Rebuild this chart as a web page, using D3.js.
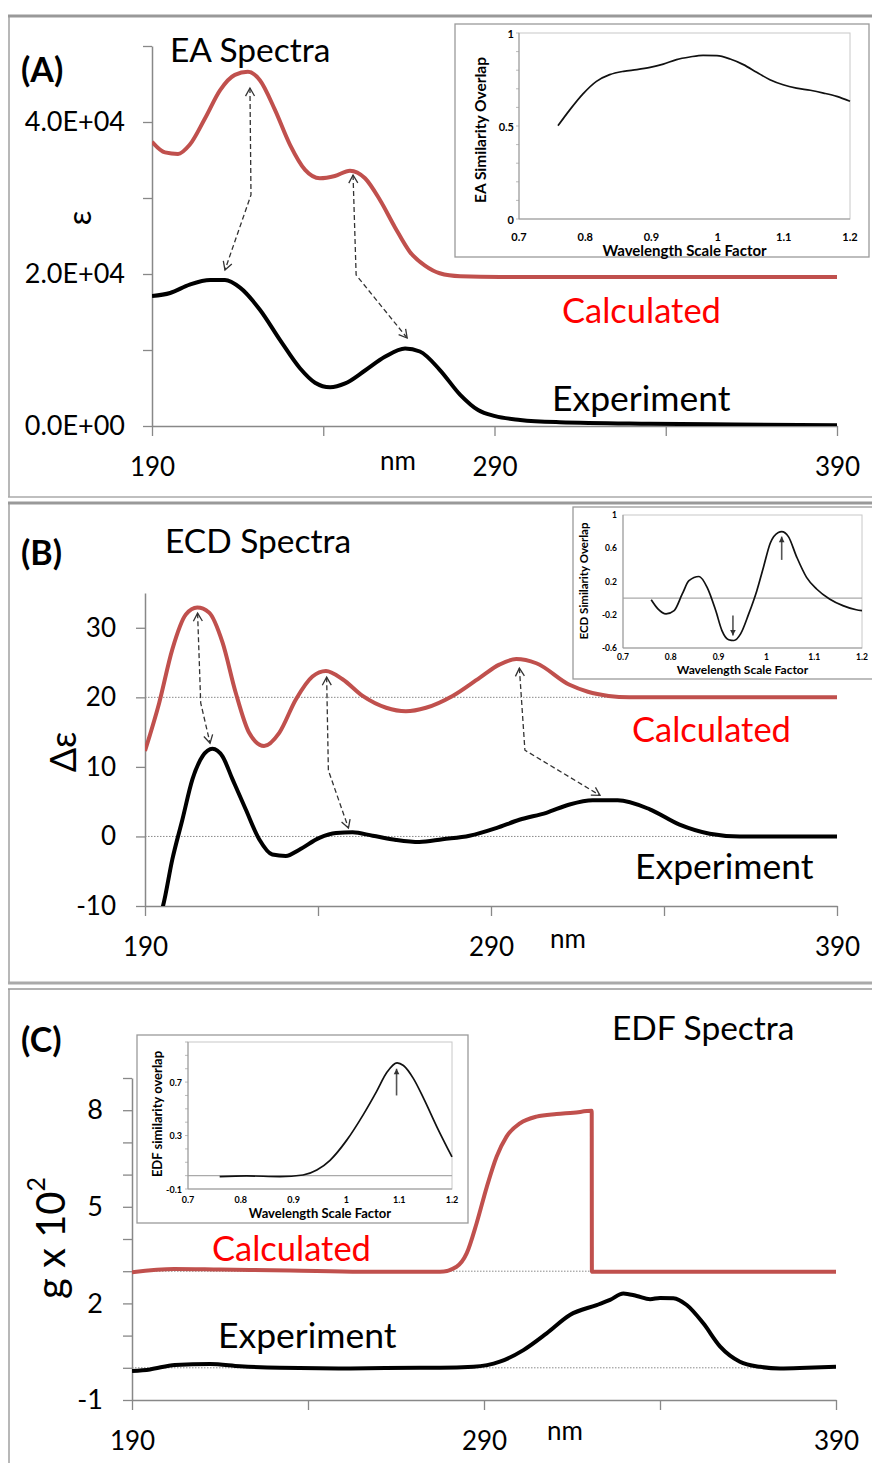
<!DOCTYPE html>
<html><head><meta charset="utf-8">
<script src="https://cdn.jsdelivr.net/npm/d3@7"></script>
<style>
body{margin:0;background:#fff;}
svg{display:block;font-family:Lato,'Open Sans',sans-serif;}
</style>
</head><body>
<svg id="c" width="872" height="1463"></svg>
<script>
// ================= DATA =================
const xTicks = [190, 240, 290, 340, 390];
const xTickLabels = ["190", "", "290", "", "390"];

// Panel A – EA spectra (nm, epsilon)
const eaTicks = [0, 10000, 20000, 30000, 40000, 50000];
const eaTickLabels = ["0.0E+00", "", "2.0E+04", "", "4.0E+04", ""];
const eaCalc = [[190,37400],[193.8,36000],[197.6,35800],[201,37000],[205.5,40500],[209.9,44200],[214.2,46200],[218,46600],[221.5,45500],[225.9,41600],[230.3,37000],[234.7,33700],[239,32600],[243.4,32900],[247.8,33600],[252.2,32600],[256.6,29700],[261,26100],[265.3,22900],[269.7,21100],[274,20100],[280,19700],[291.6,19600],[320,19600],[350,19600],[390,19600]];
const eaExp = [[190,17100],[195.3,17500],[201,18600],[207,19200],[211.3,19200],[215.7,18200],[221.5,15300],[227.4,11300],[233.2,7600],[237.6,5700],[242,5100],[246.4,5600],[252.2,7300],[258,9100],[263.9,10200],[268.2,9800],[274,7400],[280,4100],[285.2,2100],[290.2,1300],[297.5,800],[309,500],[335.4,300],[360,200],[390,100]];
const eaArrows = [
  [[218.6,44470],[218.9,30400],[211.3,20530]],
  [[248.7,33030],[249.6,19870],[264.5,11580]]
];

// Panel B – ECD spectra (nm, delta epsilon)
const ecdTicks = [-10, 0, 10, 20, 30];
const ecdTickLabels = ["-10", "0", "10", "20", "30"];
const ecdRefLines = [20, 0];
const ecdCalc = [[190,12.3],[194.1,19.2],[197.9,26.9],[201.8,31.9],[205.1,32.9],[208.5,32.2],[212.4,27.9],[216.2,20.7],[220.1,14.9],[224.4,13.0],[228.8,14.9],[233.6,19.7],[238.4,23.0],[242.3,23.8],[247.1,22.6],[252.9,20.2],[259.7,18.5],[265.4,18.0],[271.2,18.5],[278.9,20.2],[286.7,22.8],[292.4,24.7],[297.3,25.5],[303.1,24.9],[312.7,21.8],[318,20.8],[324,20.2],[330,20.0],[350,20.0],[390,20.0]];
const ecdExp = [[194.3,-11.5],[195.2,-10],[197.9,-3.3],[200.8,2.4],[203.7,8.2],[206.6,11.5],[209.5,12.6],[212.4,11.5],[215.3,8.2],[219.1,3.9],[223,-0.4],[226.8,-2.6],[230.7,-2.8],[234.6,-1.9],[240.4,-0.2],[245.2,0.5],[250,0.6],[255.8,0.1],[262.6,-0.5],[269.3,-0.8],[276,-0.4],[283.8,0.1],[291.5,1.2],[298.2,2.4],[306,3.4],[312.7,4.6],[319.4,5.2],[326.6,5.2],[335.9,3.9],[344.5,1.7],[353.2,0.4],[361.9,0],[375,0],[390,0]];
const ecdArrows = [
  [[205.2,32.1],[206.1,19.2],[208.8,13.4]],
  [[242.5,22.9],[243.0,9.5],[248.8,1.2]],
  [[298.2,24.2],[299.8,12.4],[321.5,5.9]]
];

// Panel C – EDF spectra (nm, g x 10^2)
const edfTicks = [-1, 0, 1, 2, 3, 4, 5, 6, 7, 8, 9];
const edfTickLabels = ["-1", "", "", "2", "", "", "5", "", "", "8", ""];
const edfRefLines = [3, 0];
const edfCalc = [[190,2.97],[202,3.07],[215,3.05],[235,3.02],[255,2.98],[270,2.98],[277.5,2.98],[282.2,3.14],[285.1,3.56],[287.9,4.49],[290.8,5.62],[293.6,6.56],[296.4,7.18],[300.2,7.59],[304.9,7.80],[310.6,7.88],[315.4,7.92],[320.6,7.98],[320.65,2.98],[340,2.98],[360,2.98],[390,2.98]];
const edfExp = [[190,-0.1],[195.1,-0.05],[202.2,0.09],[212.2,0.12],[220.7,0.05],[232,0.0],[252,-0.02],[271.8,0.0],[277.5,0.0],[287,0.03],[294.5,0.19],[301.2,0.55],[307.8,1.07],[314.4,1.64],[322,1.95],[325.8,2.11],[329.6,2.31],[333.4,2.23],[337.2,2.13],[340,2.17],[343.8,2.16],[347.6,1.95],[352.3,1.38],[357.1,0.66],[362.7,0.19],[368.4,0.03],[374.1,-0.02],[381.7,0.0],[390,0.03]];

// Insets – similarity overlap vs wavelength scale factor
const sfTicks = [0.7, 0.8, 0.9, 1.0, 1.1, 1.2];
const sfTickLabels = ["0.7", "0.8", "0.9", "1", "1.1", "1.2"];
const eaOverlapTicks = [0, 0.5, 1];
const eaOverlapLabels = ["0", "0.5", "1"];
const eaOverlap = [[0.759,0.502],[0.777,0.588],[0.797,0.674],[0.817,0.740],[0.837,0.776],[0.858,0.794],[0.878,0.803],[0.898,0.815],[0.918,0.833],[0.938,0.857],[0.958,0.871],[0.978,0.880],[0.999,0.878],[1.019,0.860],[1.039,0.830],[1.059,0.789],[1.079,0.749],[1.099,0.722],[1.119,0.704],[1.140,0.692],[1.160,0.677],[1.180,0.659],[1.2,0.633]];
const ecdOverlapTicks = [-0.6, -0.2, 0.2, 0.6, 1];
const ecdOverlapLabels = ["-0.6", "-0.2", "0.2", "0.6", "1"];
const ecdOverlap = [[0.759,-0.02],[0.773,-0.13],[0.790,-0.19],[0.807,-0.15],[0.824,0.05],[0.838,0.21],[0.859,0.26],[0.876,0.13],[0.894,-0.15],[0.907,-0.39],[0.921,-0.50],[0.932,-0.51],[0.946,-0.43],[0.963,-0.19],[0.980,0.09],[0.994,0.375],[1.008,0.66],[1.025,0.79],[1.032,0.80],[1.046,0.74],[1.063,0.50],[1.084,0.25],[1.105,0.11],[1.132,-0.01],[1.160,-0.09],[1.188,-0.14],[1.2,-0.15]];
const ecdOverlapArrows = [[[0.93,-0.21],[0.93,-0.45]], [[1.032,0.46],[1.032,0.74]]];
const edfOverlapTicks = [-0.1, 0.3, 0.7];
const edfOverlapLabels = ["-0.1", "0.3", "0.7"];
const edfOverlap = [[0.76,-0.007],[0.811,-0.002],[0.874,-0.007],[0.918,0.005],[0.944,0.042],[0.969,0.115],[1.0,0.262],[1.032,0.457],[1.057,0.629],[1.077,0.775],[1.096,0.844],[1.108,0.824],[1.127,0.726],[1.146,0.58],[1.172,0.36],[1.2,0.14]];
const edfOverlapArrows = [[[1.095,0.60],[1.095,0.80]]];

// ================= DRAWING =================
const svg = d3.select('#c');
const FONT = "Lato,'Open Sans',sans-serif";
const AX = '#888';
const RED = '#c0504d';

const defs = svg.append('defs');
defs.append('marker').attr('id','chev').attr('viewBox','-10 -6 12 12')
  .attr('markerWidth',12).attr('markerHeight',12).attr('markerUnits','userSpaceOnUse')
  .attr('refX',0).attr('refY',0).attr('orient','auto-start-reverse')
  .append('path').attr('d','M-8,-4.5 L0,0 L-8,4.5').attr('fill','none')
  .attr('stroke','#333').attr('stroke-width',1.3).attr('stroke-dasharray','none');
defs.append('marker').attr('id','tri').attr('viewBox','-8 -5 10 10')
  .attr('markerWidth',8).attr('markerHeight',8).attr('markerUnits','userSpaceOnUse')
  .attr('refX',0).attr('refY',0).attr('orient','auto')
  .append('path').attr('d','M-7,-3.5 L0,0 L-7,3.5 Z').attr('fill','#333');

// panel frames
function frame(y0, y1, topW, botW){
  svg.append('line').attr('x1',9).attr('x2',9).attr('y1',y0).attr('y2',y1).attr('stroke','#a0a0a0').attr('stroke-width',1.5);
  svg.append('line').attr('x1',8).attr('x2',872).attr('y1',y0).attr('y2',y0).attr('stroke','#999').attr('stroke-width',topW);
  svg.append('line').attr('x1',8).attr('x2',872).attr('y1',y1).attr('y2',y1).attr('stroke','#aaa').attr('stroke-width',botW);
}
frame(16, 497, 3, 1.5);
frame(503, 983, 3, 3);
frame(989, 1470, 1.5, 1.5);

function styleAxis(sel, fs){
  sel.select('.domain').attr('stroke',AX).attr('stroke-width',1.5);
  sel.selectAll('.tick line').attr('stroke',AX).attr('stroke-width',1.3);
  sel.selectAll('.tick text').attr('fill','#000').attr('font-size',fs).attr('font-family',FONT);
}

function panel(cfg){
  const x = d3.scaleLinear().domain([190,390]).range(cfg.xr);
  const y = d3.scaleLinear().domain(cfg.yd).range(cfg.yr);
  const g = svg.append('g');
  (cfg.refs||[]).forEach(v=>{
    g.append('line').attr('x1',x(190)).attr('x2',x(390)).attr('y1',y(v)).attr('y2',y(v))
      .attr('stroke','#8a8a8a').attr('stroke-width',1).attr('stroke-dasharray','1.5,1.5');
  });
  const xa = g.append('g').attr('transform',`translate(0,${cfg.yr[0]})`)
    .call(d3.axisBottom(x).tickValues(xTicks).tickFormat((d,i)=>xTickLabels[i]).tickSizeInner(10).tickSizeOuter(0).tickPadding(22));
  styleAxis(xa, 26);
  const ya = g.append('g').attr('transform',`translate(${cfg.xr[0]},0)`)
    .call(d3.axisLeft(y).tickValues(cfg.yt).tickFormat((d,i)=>cfg.ytl[i]).tickSizeInner(9).tickSizeOuter(0).tickPadding(cfg.ypad));
  styleAxis(ya, cfg.yfs);
  const cid = 'clip'+cfg.id;
  defs.append('clipPath').attr('id',cid).append('rect')
    .attr('x',cfg.xr[0]).attr('y',cfg.yr[1]).attr('width',cfg.xr[1]-cfg.xr[0]).attr('height',cfg.yr[0]-cfg.yr[1]);
  const line = d3.line().x(d=>x(d[0])).y(d=>y(d[1])).curve(d3.curveMonotoneX);
  g.append('path').datum(cfg.calc).attr('d',line).attr('fill','none').attr('stroke',RED).attr('stroke-width',4).attr('clip-path',`url(#${cid})`);
  g.append('path').datum(cfg.exp).attr('d',line).attr('fill','none').attr('stroke','#000').attr('stroke-width',4).attr('stroke-linejoin','round').attr('clip-path',`url(#${cid})`);
  const al = d3.line().x(d=>x(d[0])).y(d=>y(d[1]));
  (cfg.arrows||[]).forEach(a=>{
    g.append('path').datum(a).attr('d',al).attr('fill','none').attr('stroke','#333').attr('stroke-width',1.3)
      .attr('stroke-dasharray','5,3').attr('marker-start','url(#chev)').attr('marker-end','url(#chev)');
  });
  return {x,y,g};
}

function txt(x,y,s,opt={}){
  const t = svg.append('text').attr('x',x).attr('y',y).text(s)
    .attr('font-family',FONT).attr('font-size',opt.fs||26).attr('fill',opt.fill||'#000')
    .attr('font-weight',opt.fw||'normal').attr('text-anchor',opt.anchor||'start');
  if(opt.rot) t.attr('transform',`rotate(${opt.rot},${x},${y})`);
  if(opt.db) t.attr('dominant-baseline',opt.db);
  return t;
}

// ---- Panel A ----
panel({id:'A', xr:[152,837], yd:[0,50000], yr:[426,46], yt:eaTicks, ytl:eaTickLabels, ypad:18, yfs:27,
  calc:eaCalc, exp:eaExp, arrows:eaArrows});
txt(21,82,'(A)',{fs:34,fw:'bold'});
txt(170,62,'EA Spectra',{fs:33.5});
txt(562,323,'Calculated',{fs:34.5,fill:'#ff0000'});
txt(552,411,'Experiment',{fs:35.5});
txt(398,460,'nm',{fs:26,anchor:'middle',db:'central'});
txt(78,218,'ε',{fs:32,anchor:'middle',rot:-90,db:'central'});

// ---- Panel B ----
panel({id:'B', xr:[145,837], yd:[-10,35], yr:[906,593], yt:ecdTicks, ytl:ecdTickLabels, ypad:20, yfs:26,
  refs:ecdRefLines, calc:ecdCalc, exp:ecdExp, arrows:ecdArrows});
txt(21,565,'(B)',{fs:34,fw:'bold'});
txt(165,553,'ECD Spectra',{fs:33.5});
txt(632,742,'Calculated',{fs:34.5,fill:'#ff0000'});
txt(635,879,'Experiment',{fs:35.5});
txt(568,938,'nm',{fs:26,anchor:'middle',db:'central'});
txt(62,752,'Δε',{fs:36,anchor:'middle',rot:-90,db:'central'});

// ---- Panel C ----
panel({id:'C', xr:[132,836], yd:[-1,9], yr:[1400,1078], yt:edfTicks, ytl:edfTickLabels, ypad:20, yfs:27,
  refs:edfRefLines, calc:edfCalc, exp:edfExp});
txt(21,1052,'(C)',{fs:34,fw:'bold'});
txt(612,1040,'EDF Spectra',{fs:33.5});
txt(212,1261,'Calculated',{fs:34.5,fill:'#ff0000'});
txt(218,1348,'Experiment',{fs:35.5});
txt(565,1430,'nm',{fs:26,anchor:'middle',db:'central'});
{
  const t = txt(50,1238,'g x 10',{fs:40,anchor:'middle',rot:-90,db:'central'});
  t.append('tspan').attr('font-size',25).attr('dy',-15).text('2');
}

// ---- Insets ----
function inset(cfg){
  const x = d3.scaleLinear().domain([0.7,1.2]).range(cfg.xr);
  const y = d3.scaleLinear().domain(cfg.yd).range(cfg.yr);
  const g = svg.append('g');
  g.append('rect').attr('x',cfg.box[0]).attr('y',cfg.box[1]).attr('width',cfg.box[2]-cfg.box[0]).attr('height',cfg.box[3]-cfg.box[1])
    .attr('fill','#fff').attr('stroke','#9a9a9a').attr('stroke-width',1.3);
  g.append('rect').attr('x',cfg.xr[0]).attr('y',cfg.yr[1]).attr('width',cfg.xr[1]-cfg.xr[0]).attr('height',cfg.yr[0]-cfg.yr[1])
    .attr('fill','none').attr('stroke','#c8c8c8').attr('stroke-width',1);
  if(cfg.zero){
    g.append('line').attr('x1',cfg.xr[0]).attr('x2',cfg.xr[1]).attr('y1',y(0)).attr('y2',y(0)).attr('stroke','#aaa').attr('stroke-width',1.2);
  }
  if(cfg.minor){
    const m = d3.range(cfg.yd[0], cfg.yd[1]+1e-9, 0.1);
    g.selectAll(null).data(m).enter().append('line').attr('x1',cfg.xr[0]-3).attr('x2',cfg.xr[0]).attr('y1',d=>y(d)).attr('y2',d=>y(d)).attr('stroke','#aaa').attr('stroke-width',0.8);
  }
  g.append('line').attr('x1',cfg.xr[0]).attr('x2',cfg.xr[0]).attr('y1',cfg.yr[0]).attr('y2',cfg.yr[1]).attr('stroke','#999').attr('stroke-width',1);
  g.append('line').attr('x1',cfg.xr[0]).attr('x2',cfg.xr[1]).attr('y1',cfg.yr[0]).attr('y2',cfg.yr[0]).attr('stroke','#999').attr('stroke-width',1);
  g.selectAll(null).data(cfg.yt).enter().append('text').attr('x',cfg.xr[0]-cfg.ylp).attr('y',d=>y(d)).text((d,i)=>cfg.ytl[i])
    .attr('text-anchor','end').attr('dominant-baseline','central').attr('font-size',cfg.tfs).attr('font-weight','bold').attr('font-family',FONT).attr('fill','#000');
  g.selectAll(null).data(sfTicks).enter().append('text').attr('x',d=>x(d)).attr('y',cfg.xly).text((d,i)=>sfTickLabels[i])
    .attr('text-anchor','middle').attr('dominant-baseline','central').attr('font-size',cfg.tfs).attr('font-weight','bold').attr('font-family',FONT).attr('fill','#000');
  g.append('text').attr('x',(cfg.xr[0]+cfg.xr[1])/2).attr('y',cfg.xty).text('Wavelength Scale Factor')
    .attr('text-anchor','middle').attr('dominant-baseline','central').attr('font-size',cfg.xtfs).attr('font-weight','bold').attr('font-family',FONT).attr('fill','#000');
  g.append('text').attr('x',cfg.ytx).attr('y',cfg.yty).text(cfg.ytitle)
    .attr('transform',`rotate(-90,${cfg.ytx},${cfg.yty})`)
    .attr('text-anchor','middle').attr('dominant-baseline','central').attr('font-size',cfg.ytfs).attr('font-weight','bold').attr('font-family',FONT).attr('fill','#000');
  const line = d3.line().x(d=>x(d[0])).y(d=>y(d[1])).curve(d3.curveMonotoneX);
  g.append('path').datum(cfg.data).attr('d',line).attr('fill','none').attr('stroke','#111').attr('stroke-width',1.7);
  const al = d3.line().x(d=>x(d[0])).y(d=>y(d[1]));
  (cfg.arrows||[]).forEach(a=>{
    g.append('path').datum(a).attr('d',al).attr('stroke','#555').attr('stroke-width',1.6).attr('fill','none').attr('marker-end','url(#tri)');
  });
}

inset({box:[455,24,869,257], xr:[519,850], yd:[0,1], yr:[219,33], yt:eaOverlapTicks, ytl:eaOverlapLabels,
  ylp:5, tfs:11, xly:236, xty:250, xtfs:15, ytx:480, yty:130, ytfs:15.5, ytitle:'EA Similarity Overlap',
  minor:true, data:eaOverlap});
inset({box:[573,507,876,679], xr:[623,862], yd:[-0.6,1], yr:[648,515], yt:ecdOverlapTicks, ytl:ecdOverlapLabels,
  ylp:6, tfs:8.5, xly:657, xty:669, xtfs:12, ytx:583, yty:581, ytfs:11.5, ytitle:'ECD Similarity Overlap',
  zero:true, data:ecdOverlap, arrows:ecdOverlapArrows});
inset({box:[137,1035,468,1223], xr:[188,452], yd:[-0.1,1.0], yr:[1189,1042], yt:edfOverlapTicks, ytl:edfOverlapLabels,
  ylp:6, tfs:9, xly:1199, xty:1213, xtfs:13, ytx:157, yty:1114, ytfs:13, ytitle:'EDF similarity overlap',
  zero:true, minor:true, data:edfOverlap, arrows:edfOverlapArrows});
</script>
</body></html>
